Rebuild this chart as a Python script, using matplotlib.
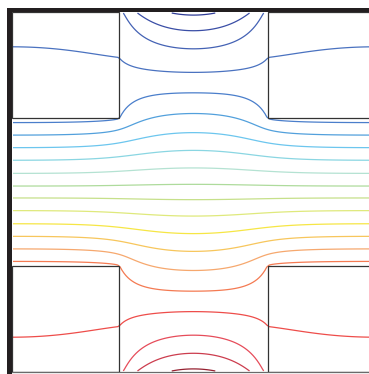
import numpy as np
import matplotlib
matplotlib.use("Agg")
import matplotlib.pyplot as plt
from matplotlib.patches import Rectangle

# ---- model parameters (unit cell 1 x 1, y measured downward from top) ----
square_extent = 0.295        # extent of the corner inclusions (fraction of cell)
conductivity_ratio = 10.0    # inclusion / matrix conductivity

# contour levels of the normalised potential (ascending)
levels = [-0.985, -0.881, -0.777, -0.659, -0.562, -0.460, -0.358, -0.256, -0.150, -0.048,
          0.048, 0.150, 0.256, 0.358, 0.460, 0.562, 0.659, 0.777, 0.881, 0.985]
# line colours, from the top (highest level) to the bottom (lowest level)
colors_top_to_bottom = ['#2e3b96', '#3a4ea6', '#4462b4', '#4a72c0', '#4a7ecb',
                        '#52a0dc', '#6cc6ee', '#8ad6e2', '#b4e2d2', '#aedb9c',
                        '#c6e08a', '#dfe97c', '#f6e645', '#f7c65c', '#f6a86e',
                        '#f47a52', '#ee4d4a', '#e64c5a', '#cc3d4e', '#962030']

# ---- potential: -div(sigma grad V) = 0, uniform flux in at top, out at bottom ----
N = 180
h = 1.0 / N
cc = (np.arange(N) + 0.5) * h
X, Y = np.meshgrid(cc, cc)
a = square_extent
inc = ((X < a) | (X > 1 - a)) & ((Y < a) | (Y > 1 - a))
sig = np.where(inc, conductivity_ratio, 1.0)
gx = 2 * sig[:, 1:] * sig[:, :-1] / (sig[:, 1:] + sig[:, :-1])
gy = 2 * sig[1:, :] * sig[:-1, :] / (sig[1:, :] + sig[:-1, :])
diag = np.zeros((N, N))
diag[:, :-1] += gx
diag[:, 1:] += gx
diag[:-1, :] += gy
diag[1:, :] += gy


def apply(V):
    out = np.zeros_like(V)
    fx = gx * (V[:, 1:] - V[:, :-1])
    out[:, :-1] -= fx
    out[:, 1:] += fx
    fy = gy * (V[1:, :] - V[:-1, :])
    out[:-1, :] -= fy
    out[1:, :] += fy
    return out


b = np.zeros((N, N))
b[0, :] = 1.0
b[-1, :] = -1.0
V = np.zeros((N, N))
r = b.copy()
z = r / diag
p = z.copy()
rz = (r * z).sum()
r0 = (r * r).sum()
for it in range(40000):
    Ap = apply(p)
    alpha = rz / (p * Ap).sum()
    V += alpha * p
    r -= alpha * Ap
    if (r * r).sum() < 1e-22 * r0:
        break
    z = r / diag
    rz_new = (r * z).sum()
    p = z + (rz_new / rz) * p
    rz = rz_new
V -= V.mean()
V /= V[0, N // 2]

# ---- figure ----
W, H = 369, 374
fig = plt.figure(figsize=(W / 100, H / 100), dpi=100)
ax = fig.add_axes([12 / W, 2 / H, 363 / W, 360 / H])
ax.set_xlim(0, 1)
ax.set_ylim(1, 0)
ax.set_xticks([])
ax.set_yticks([])
for s in ['left', 'top', 'right']:
    ax.spines[s].set_visible(False)
ax.spines['bottom'].set_color('#6a6a6a')
ax.spines['bottom'].set_linewidth(0.9)

ax.contour(X, Y, V, levels=levels, colors=colors_top_to_bottom[::-1], linewidths=0.9)

for (x0, y0) in [(0, 0), (1 - a, 0), (0, 1 - a), (1 - a, 1 - a)]:
    ax.add_patch(Rectangle((x0, y0), a, a, fill=False, edgecolor='#333333',
                           lw=0.9, zorder=5))

fig.add_artist(Rectangle((7 / W, 0), 5 / W, (H - 8) / H, transform=fig.transFigure,
                         facecolor='#231f20', edgecolor='none'))
fig.add_artist(Rectangle((7 / W, (H - 12) / H), (W - 7) / W, 4 / H,
                         transform=fig.transFigure, facecolor='#231f20', edgecolor='none'))

fig.savefig('out.png', dpi=100)
